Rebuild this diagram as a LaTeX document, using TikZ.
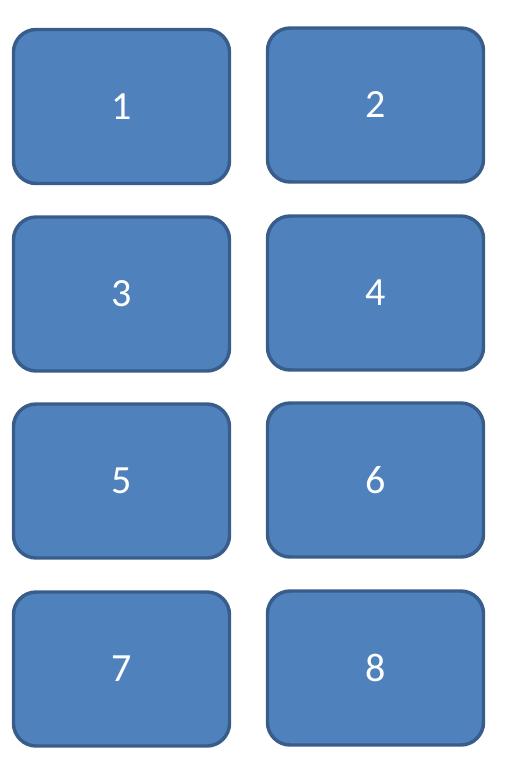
\documentclass[tikz,border=0pt]{standalone}
\usepackage{fontspec}
\setmainfont{Carlito}
\usepackage{xcolor}
\definecolor{kastenblau}{HTML}{4F81BD}
\definecolor{randblau}{HTML}{385D8A}
\usepackage{tikz}
\usetikzlibrary{positioning}

\begin{document}
\begin{tikzpicture}[x=0.75pt, y=-0.75pt,
        kasten/.style={rectangle, rounded corners=17pt, fill=kastenblau, draw=randblau, line width=2.6pt,
            minimum width=162pt, minimum height=115.5pt, inner sep=0pt,
            text=white, font=\fontsize{30}{32}\selectfont}]
        % Umgebung
        \useasboundingbox (0, 0) rectangle (505, 765);

        % Kästchen
        \node[kasten] (k1) at (121.5, 106.5) {1};
        \node[kasten] (k2) at (375.5, 105) {2};
        \node[kasten] (k3) at (121.5, 294) {3};
        \node[kasten] (k4) at (375.5, 293) {4};
        \node[kasten] (k5) at (121.5, 481) {5};
        \node[kasten] (k6) at (375.5, 480) {6};
        \node[kasten] (k7) at (121.5, 669) {7};
        \node[kasten] (k8) at (375.5, 668) {8};

    \end{tikzpicture}
\end{document}
